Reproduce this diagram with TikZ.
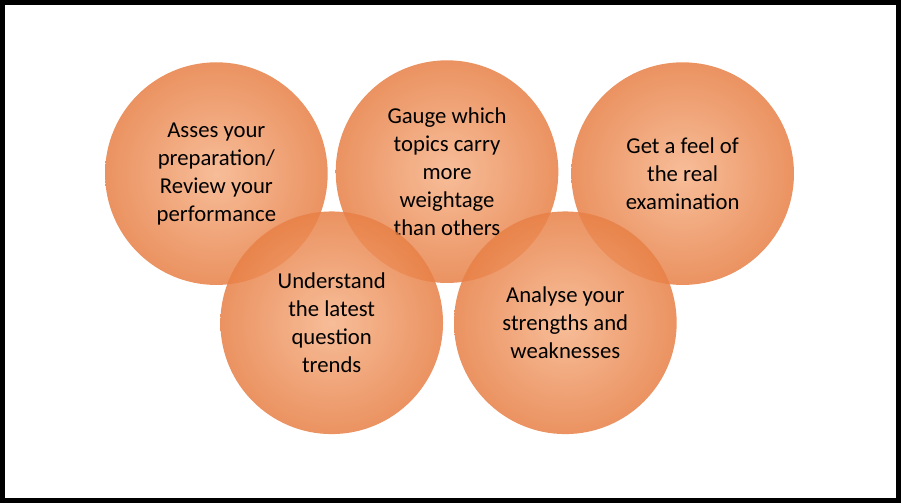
\documentclass[tikz,border=0pt]{standalone}
\usepackage{fontspec}
\setmainfont{Carlito}
\usetikzlibrary{positioning}
\definecolor{ringin}{RGB}{246,178,135}
\definecolor{ringout}{RGB}{232,128,70}
\tikzset{
	ring/.style={circle, minimum size=4.48cm, inner sep=0pt, align=center, fill opacity=0.85, text opacity=1,
		shading=radial, inner color=ringin, outer color=ringout, font=\fontsize{13}{16}\selectfont},
}
\begin{document}
\begin{tikzpicture}[x=0.02cm, y=-0.02cm]
			\draw[line width=3pt, fill=white] (0,0) rectangle (901,501);
			
			\node (assess) [ring] at (215,172) {Asses your\\preparation/\\Review your\\performance};
			\node (gauge) [ring] at (447,170) {Gauge which\\topics carry\\more\\weightage\\than others};
			\node (feel) [ring] at (684,172) {Get a feel of\\the real\\examination};
			\node (trends) [ring] at (331,322) {Understand\\the latest\\question\\trends};
			\node (analyse) [ring] at (566,322) {Analyse your\\strengths and\\weaknesses};
		\end{tikzpicture}
\end{document}
